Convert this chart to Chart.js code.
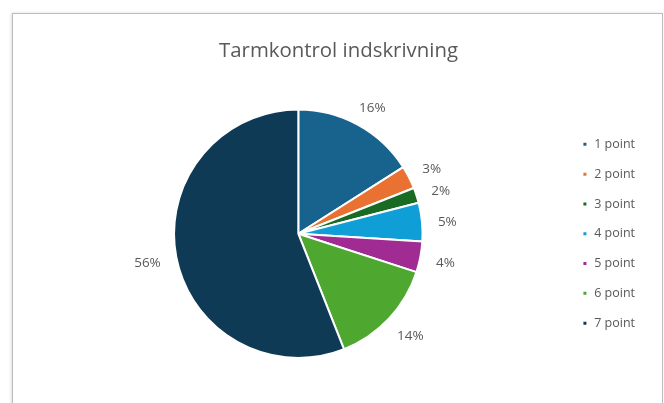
<!DOCTYPE html>
<html>
<head>
<meta charset="utf-8">
<script src="https://cdn.jsdelivr.net/npm/chart.js@4"></script>
<style>
  html, body { margin: 0; padding: 0; background: #ffffff; overflow: hidden; }
  #frame { position: absolute; left: 12px; top: 13px; width: 649px; height: 420px;
           border: 1px solid #bcbcbc; box-shadow: -1px 0 3px rgba(0,0,0,0.12); background: #fff; }
  #wrap { position: absolute; left: 0; top: 0; width: 664px; height: 403px; }
</style>
</head>
<body>
<div id="frame"></div>
<div id="wrap"><canvas id="c" width="664" height="403"></canvas></div>
<script>
const chartTitle = 'Tarmkontrol indskrivning';
const categories = ['1 point', '2 point', '3 point', '4 point', '5 point', '6 point', '7 point'];
const values = [16, 3, 2, 5, 4, 14, 56];
const colors = ['#18638E', '#E97132', '#196B24', '#0F9ED5', '#A02B93', '#4EA72E', '#0E3A55'];

const outsideLabels = {
  id: 'outsideLabels',
  afterDatasetsDraw(chart) {
    const ctx = chart.ctx;
    const meta = chart.getDatasetMeta(0);
    const total = values.reduce((a, b) => a + b, 0);
    ctx.save();
    ctx.font = '13.5px "Open Sans"';
    ctx.fillStyle = '#595959';
    ctx.textAlign = 'center';
    ctx.textBaseline = 'alphabetic';
    meta.data.forEach((arc, i) => {
      const p = arc.getProps(['x', 'y', 'startAngle', 'endAngle', 'outerRadius'], true);
      const mid = (p.startAngle + p.endAngle) / 2;
      const dx = Math.cos(mid), dy = Math.sin(mid);
      const txt = Math.round(values[i] / total * 100) + '%';
      const w = ctx.measureText(txt).width;
      const pad = 16;
      const px = p.x + (p.outerRadius + pad) * dx;
      const py = p.y + (p.outerRadius + pad) * dy;
      ctx.fillText(txt, px + dx * w / 2, py + dy * 6 + 6);
    });
    ctx.restore();
  }
};

new Chart(document.getElementById('c'), {
  type: 'pie',
  data: {
    labels: categories,
    datasets: [{
      data: values,
      backgroundColor: colors,
      borderColor: '#ffffff',
      borderWidth: 2
    }]
  },
  options: {
    responsive: false,
    animation: false,
    layout: { padding: { left: 32, right: 19, top: 0, bottom: 44 } },
    plugins: {
      title: {
        display: true,
        text: chartTitle,
        color: '#595959',
        font: { family: '"Open Sans"', size: 20.4, weight: 'normal' },
        padding: { top: 39, bottom: 45 }
      },
      legend: {
        position: 'right',
        fullSize: false,
        labels: {
          usePointStyle: true,
          pointStyle: 'rect',
          boxWidth: 6,
          boxHeight: 5,
          padding: 17.3,
          color: '#595959',
          font: { family: '"Open Sans"', size: 12.5 }
        }
      },
      tooltip: { enabled: false }
    }
  },
  plugins: [outsideLabels]
});
</script>
</body>
</html>
